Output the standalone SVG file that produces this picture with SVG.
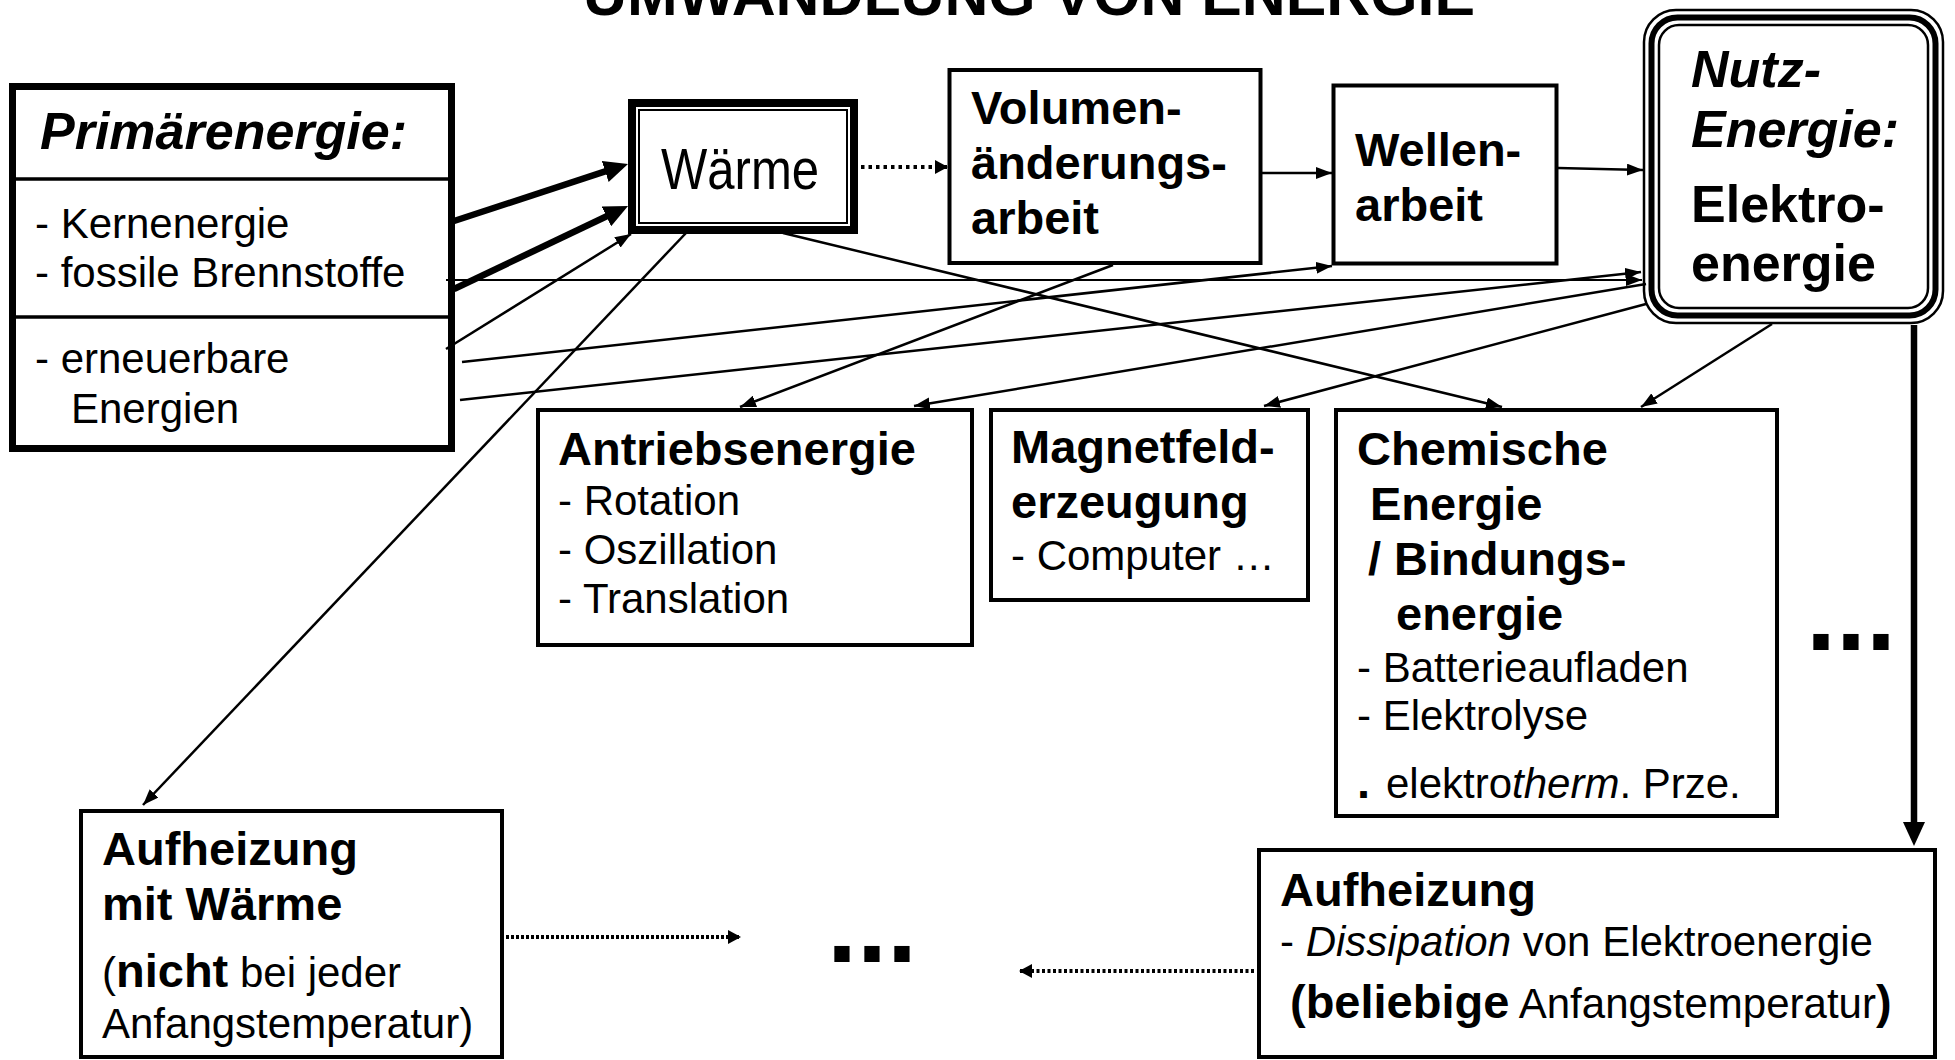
<svg xmlns="http://www.w3.org/2000/svg" width="1955" height="1060" viewBox="0 0 1955 1060">
  <defs>
    <style>
      .t { font-family: "Liberation Sans", Arial, sans-serif; font-size: 42px; fill: #000; }
      .b { font-weight: bold; font-size: 47px; }
      .bi { font-weight: bold; font-style: italic; font-size: 52px; }
      .big { font-weight: bold; font-size: 52px; }
      .ell { font-weight: bold; font-size: 108px; }
      .box { fill: #fff; stroke: #000; stroke-width: 4; }
      .c { fill: none; stroke: #000; stroke-width: 2.5; }
      .thin { stroke-width: 1.8; }
      .thick { stroke-width: 6.5; }
      .dot { fill: none; stroke: #000; stroke-width: 4; }
    </style>
    <marker id="arr" markerUnits="userSpaceOnUse" markerWidth="16" markerHeight="12" refX="16" refY="6" orient="auto">
      <path d="M0,0 L16,6 L0,12 z" fill="#000"/>
    </marker>
    <marker id="arrT" markerUnits="userSpaceOnUse" markerWidth="24" markerHeight="22" refX="12" refY="11" orient="auto">
      <path d="M0,0 L24,11 L0,22 z" fill="#000"/>
    </marker>
    <marker id="arrD" markerUnits="userSpaceOnUse" markerWidth="13" markerHeight="14" refX="13" refY="7" orient="auto">
      <path d="M0,0 L13,7 L0,14 z" fill="#000"/>
    </marker>
  </defs>

  <rect width="1955" height="1060" fill="#fff"/>

  <!-- title -->
  <text class="t" x="1029" y="15" text-anchor="middle" style="font-weight:bold;font-size:60px" textLength="892" lengthAdjust="spacingAndGlyphs">UMWANDLUNG VON ENERGIE</text>

  <!-- primary energy -->
  <g id="primaerenergie">
    <rect x="12.5" y="86.5" width="439" height="362" fill="#fff" stroke="#000" stroke-width="7"/>
    <line x1="16" y1="179" x2="449" y2="179" stroke="#000" stroke-width="3.5"/>
    <line x1="16" y1="317" x2="449" y2="317" stroke="#000" stroke-width="3.5"/>
    <text class="t bi" x="40" y="149">Primärenergie:</text>
    <text class="t" x="35" y="238">- Kernenergie</text>
    <text class="t" x="35" y="287">- fossile Brennstoffe</text>
    <text class="t" x="35" y="373">- erneuerbare</text>
    <text class="t" x="71" y="423">Energien</text>
  </g>

  <!-- heat -->
  <g id="waerme">
    <rect x="632" y="103" width="222" height="127" fill="#fff" stroke="#000" stroke-width="8"/>
    <rect x="639" y="110" width="208" height="113" fill="none" stroke="#000" stroke-width="2"/>
    <text class="t" x="661" y="189" style="font-family:'Liberation Sans Narrow','Liberation Sans',Arial,sans-serif;font-size:57px" textLength="158" lengthAdjust="spacingAndGlyphs">Wärme</text>
  </g>

  <!-- volume work -->
  <g id="volumenarbeit">
    <rect class="box" x="949.5" y="70" width="311" height="193"/>
    <text class="t b" x="971" y="124">Volumen-</text>
    <text class="t b" x="971" y="179">änderungs-</text>
    <text class="t b" x="971" y="234">arbeit</text>
  </g>

  <!-- shaft work -->
  <g id="wellenarbeit">
    <rect class="box" x="1333.5" y="85.5" width="223" height="178"/>
    <text class="t b" x="1355" y="166">Wellen-</text>
    <text class="t b" x="1355" y="221">arbeit</text>
  </g>

  <!-- useful energy: electricity (triple rounded frame) -->
  <g id="nutzenergie">
    <rect x="1644" y="10" width="299" height="313" rx="32" fill="#fff" stroke="#000" stroke-width="2.5"/>
    <rect x="1651.5" y="17.5" width="284" height="298" rx="26" fill="none" stroke="#000" stroke-width="6"/>
    <rect x="1659" y="25" width="269" height="283" rx="20" fill="none" stroke="#000" stroke-width="2.5"/>
    <text class="t bi" x="1691" y="87">Nutz-</text>
    <text class="t bi" x="1691" y="147">Energie:</text>
    <text class="t big" x="1691" y="222">Elektro-</text>
    <text class="t big" x="1691" y="281">energie</text>
  </g>

  <!-- drive energy -->
  <g id="antriebsenergie">
    <rect class="box" x="538" y="410" width="434" height="235"/>
    <text class="t b" x="558" y="465">Antriebsenergie</text>
    <text class="t" x="558" y="515">- Rotation</text>
    <text class="t" x="558" y="564">- Oszillation</text>
    <text class="t" x="558" y="613">- Translation</text>
  </g>

  <!-- magnetic field -->
  <g id="magnetfeld">
    <rect class="box" x="991" y="410" width="317" height="190"/>
    <text class="t b" x="1011" y="463">Magnetfeld-</text>
    <text class="t b" x="1011" y="518">erzeugung</text>
    <text class="t" x="1011" y="570">- Computer …</text>
  </g>

  <!-- chemical / bonding energy -->
  <g id="chemische-energie">
    <rect class="box" x="1336" y="410" width="441" height="406"/>
    <text class="t b" x="1357" y="465">Chemische</text>
    <text class="t b" x="1370" y="520">Energie</text>
    <text class="t b" x="1368" y="575">/ Bindungs-</text>
    <text class="t b" x="1396" y="630">energie</text>
    <text class="t" x="1357" y="682">- Batterieaufladen</text>
    <text class="t" x="1357" y="730">- Elektrolyse</text>
    <text class="t" y="798"><tspan x="1357" style="font-weight:bold;font-size:47px">.</tspan><tspan x="1386">elektro</tspan><tspan style="font-style:italic">therm</tspan>. Prze.</text>
  </g>

  <!-- further conversions -->
  <g id="weitere-rechts">
    <text class="t ell" x="1806" y="650">...</text>
  </g>

  <!-- heating with heat -->
  <g id="aufheizung-waerme">
    <rect class="box" x="81" y="811" width="421" height="246"/>
    <text class="t b" x="102" y="865">Aufheizung</text>
    <text class="t b" x="102" y="920">mit Wärme</text>
    <text class="t" x="102" y="987">(<tspan style="font-weight:bold;font-size:47px">nicht</tspan> bei jeder</text>
    <text class="t" x="102" y="1038">Anfangstemperatur)</text>
  </g>

  <!-- further heating states -->
  <g id="weitere-mitte">
    <text class="t ell" x="827" y="962">...</text>
  </g>

  <!-- heating by dissipation -->
  <g id="aufheizung-elektro">
    <rect class="box" x="1259" y="850" width="676" height="207"/>
    <text class="t b" x="1280" y="906">Aufheizung</text>
    <text class="t" x="1280" y="956">- <tspan style="font-style:italic">Dissipation</tspan> von Elektroenergie</text>
    <text class="t" x="1290" y="1018"><tspan style="font-weight:bold;font-size:47px">(beliebige</tspan> Anfangstemperatur<tspan style="font-weight:bold;font-size:47px">)</tspan></text>
  </g>

  <!-- connectors -->
  <g id="connectors">
    <!-- primary energy to heat -->
    <line class="c thick" x1="454" y1="221" x2="616.6" y2="167.7" marker-end="url(#arrT)"/>
    <line class="c thick" x1="454" y1="289" x2="617.2" y2="211.2" marker-end="url(#arrT)"/>
    <line class="c" stroke-width="2" x1="446" y1="349" x2="631" y2="234" marker-end="url(#arr)"/>
    <!-- primary energy to shaft work / electricity -->
    <line class="c thin" x1="446" y1="280" x2="1642" y2="280" marker-end="url(#arr)"/>
    <line class="c" x1="462" y1="362" x2="1332" y2="266" marker-end="url(#arr)"/>
    <line class="c" x1="460" y1="400" x2="1641" y2="272" marker-end="url(#arr)"/>
    <!-- chain heat -> volume work -> shaft work -> electricity -->
    <line class="dot" stroke-dasharray="3.5 4" x1="861" y1="167" x2="948" y2="167" marker-end="url(#arrD)"/>
    <line class="c" x1="1262" y1="173" x2="1332" y2="173" marker-end="url(#arr)"/>
    <line class="c" x1="1558" y1="168" x2="1643" y2="170" marker-end="url(#arr)"/>
    <!-- to the application boxes -->
    <line class="c" x1="1113" y1="265" x2="740" y2="407" marker-end="url(#arr)"/>
    <line class="c" x1="1646" y1="284" x2="914" y2="406" marker-end="url(#arr)"/>
    <line class="c" x1="1646" y1="304" x2="1264" y2="406" marker-end="url(#arr)"/>
    <line class="c" x1="783" y1="233" x2="1502" y2="407" marker-end="url(#arr)"/>
    <line class="c" x1="1772" y1="324" x2="1641" y2="407" marker-end="url(#arr)"/>
    <line class="c" stroke-width="2" x1="686" y1="233" x2="143" y2="805" marker-end="url(#arr)"/>
    <!-- electricity to dissipative heating -->
    <line class="c thick" x1="1914" y1="325" x2="1914" y2="834" marker-end="url(#arrT)"/>
    <!-- heating to further states -->
    <line class="dot" stroke-dasharray="3 2" x1="506" y1="937" x2="741" y2="937" marker-end="url(#arrD)"/>
    <line class="dot" stroke-dasharray="3 2.5" x1="1254" y1="971" x2="1019" y2="971" marker-end="url(#arrD)"/>
  </g>
</svg>
